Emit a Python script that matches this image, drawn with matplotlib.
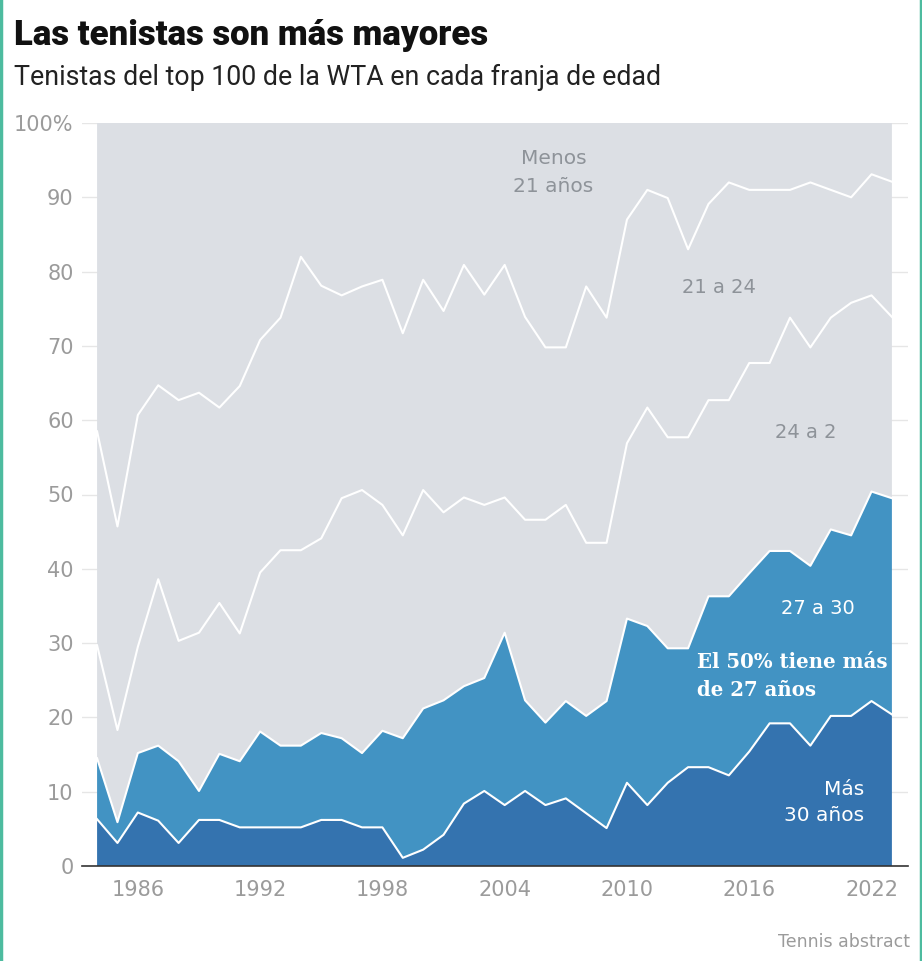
import numpy as np
import matplotlib.pyplot as plt
from matplotlib.lines import Line2D

# Porcentaje del top 100 WTA por franja de edad (1984-2023)
years = list(range(1984, 2024))

mas_30 = [6.3, 3.1, 7.2, 6.1, 3.1, 6.2, 6.2, 5.2, 5.2, 5.2,
          5.2, 6.2, 6.2, 5.2, 5.2, 1.1, 2.2, 4.2, 8.4, 10.1,
          8.2, 10.1, 8.2, 9.1, 7.1, 5.1, 11.2, 8.2, 11.2, 13.3,
          13.3, 12.2, 15.4, 19.2, 19.2, 16.2, 20.2, 20.2, 22.2, 20.4]

de_27_a_30 = [8.2, 2.8, 8.0, 10.1, 11.0, 3.9, 8.9, 8.9, 12.9, 11.0,
              11.0, 11.7, 11.0, 10.0, 13.0, 16.1, 19.0, 18.1, 15.8, 15.2,
              23.2, 12.2, 11.1, 13.1, 13.1, 17.1, 22.1, 24.1, 18.1, 16.0,
              23.0, 24.1, 24.0, 23.2, 23.2, 24.2, 25.1, 24.3, 28.2, 29.1]

de_24_a_27 = [15.2, 12.4, 14.3, 22.4, 16.2, 21.3, 20.3, 17.2, 21.4, 26.3,
              26.3, 26.2, 32.3, 35.4, 30.4, 27.3, 29.4, 25.3, 25.4, 23.3,
              18.2, 24.3, 27.3, 26.4, 23.3, 21.3, 23.6, 29.4, 28.4, 28.4,
              26.4, 26.4, 28.3, 25.3, 31.4, 29.4, 28.5, 31.3, 26.4, 24.4]

de_21_a_24 = [28.8, 27.4, 31.2, 26.1, 32.4, 32.3, 26.3, 33.3, 31.3, 31.3,
              39.5, 34.0, 27.3, 27.4, 30.3, 27.2, 28.3, 27.1, 31.3, 28.3,
              31.3, 27.3, 23.2, 21.2, 34.5, 30.3, 30.1, 29.3, 32.2, 25.3,
              26.4, 29.3, 23.3, 23.3, 17.2, 22.2, 17.2, 14.2, 16.3, 18.2]

menos_21 = [100 - a - b - c - d for a, b, c, d in
            zip(mas_30, de_27_a_30, de_24_a_27, de_21_a_24)]

x_ticks = [1986, 1992, 1998, 2004, 2010, 2016, 2022]
y_ticks = list(range(0, 101, 10))
y_labels = [str(v) for v in y_ticks[:-1]] + ['100%']

c_dark = '#3473af'
c_mid = '#4293c3'
c_gray = '#dcdfe4'
c_text = '#9b9b9b'
c_label = '#8e9399'

fig = plt.figure(figsize=(9.22, 9.61), dpi=100)
ax = fig.add_axes([82/922, 1-866/961, (908-82)/922, (866-123)/961])

ax.stackplot(years, mas_30, de_27_a_30, de_24_a_27, de_21_a_24, menos_21,
             colors=[c_dark, c_mid, c_gray, c_gray, c_gray], linewidth=0, zorder=2)

# lineas blancas entre franjas
cum = np.cumsum([mas_30, de_27_a_30, de_24_a_27, de_21_a_24], axis=0)
for row in cum:
    ax.plot(years, row, color='white', lw=1.5, zorder=3)

ax.set_xlim(1983.26, 2023.79)
ax.set_ylim(0, 100)
ax.set_yticks(y_ticks)
ax.set_yticklabels(y_labels)
ax.set_xticks(x_ticks)
for s in ['top', 'right', 'left']:
    ax.spines[s].set_visible(False)
ax.spines['bottom'].set_color('#333333')
ax.spines['bottom'].set_linewidth(1.2)
ax.spines['bottom'].set_zorder(4)
ax.grid(axis='y', color='#e6e6e6', lw=1, zorder=0)
ax.set_axisbelow(True)
ax.tick_params(axis='both', length=0, colors=c_text, labelsize=15)
ax.tick_params(axis='y', pad=6)
ax.tick_params(axis='x', pad=10)

# etiquetas de franjas
ax.text(2006.4, 93.4, 'Menos\n21 años', ha='center', va='center', fontsize=14.5,
        color=c_label, linespacing=1.6, zorder=5)
ax.text(2014.5, 77.8, '21 a 24', ha='center', va='center', fontsize=14,
        color=c_label, zorder=5)
ax.text(2018.75, 58.4, '24 a 2', ha='center', va='center', fontsize=14,
        color=c_label, zorder=5)
ax.text(2019.35, 34.7, '27 a 30', ha='center', va='center', fontsize=14,
        color='white', zorder=5)
ax.text(2013.45, 25.6, 'El 50% tiene más\nde 27 años', ha='left', va='center',
        fontsize=14.2, color='white', family='DejaVu Serif', fontweight='bold',
        linespacing=1.5, zorder=5)
ax.text(2021.65, 8.5, 'Más\n30 años', ha='right', va='center', fontsize=14.5,
        color='white', linespacing=1.45, zorder=5)

fig.text(14/922, 1-35/961, 'Las tenistas son más mayores', ha='left', va='center',
         fontsize=25, fontweight='heavy', color='#111111', family='Roboto')
fig.text(14/922, 1-77/961, 'Tenistas del top 100 de la WTA en cada franja de edad',
         ha='left', va='center', fontsize=19.3, color='#222222', family='Roboto')
fig.text(910/922, 1-942/961, 'Tennis abstract', ha='right', va='center',
         fontsize=12.5, color=c_text)

# borde verde lateral
for xb in [1/922, 920.5/922]:
    fig.add_artist(Line2D([xb, xb], [0, 1], transform=fig.transFigure,
                          color='#4dbb9f', lw=2.5))

plt.savefig('out.png', dpi=100)
